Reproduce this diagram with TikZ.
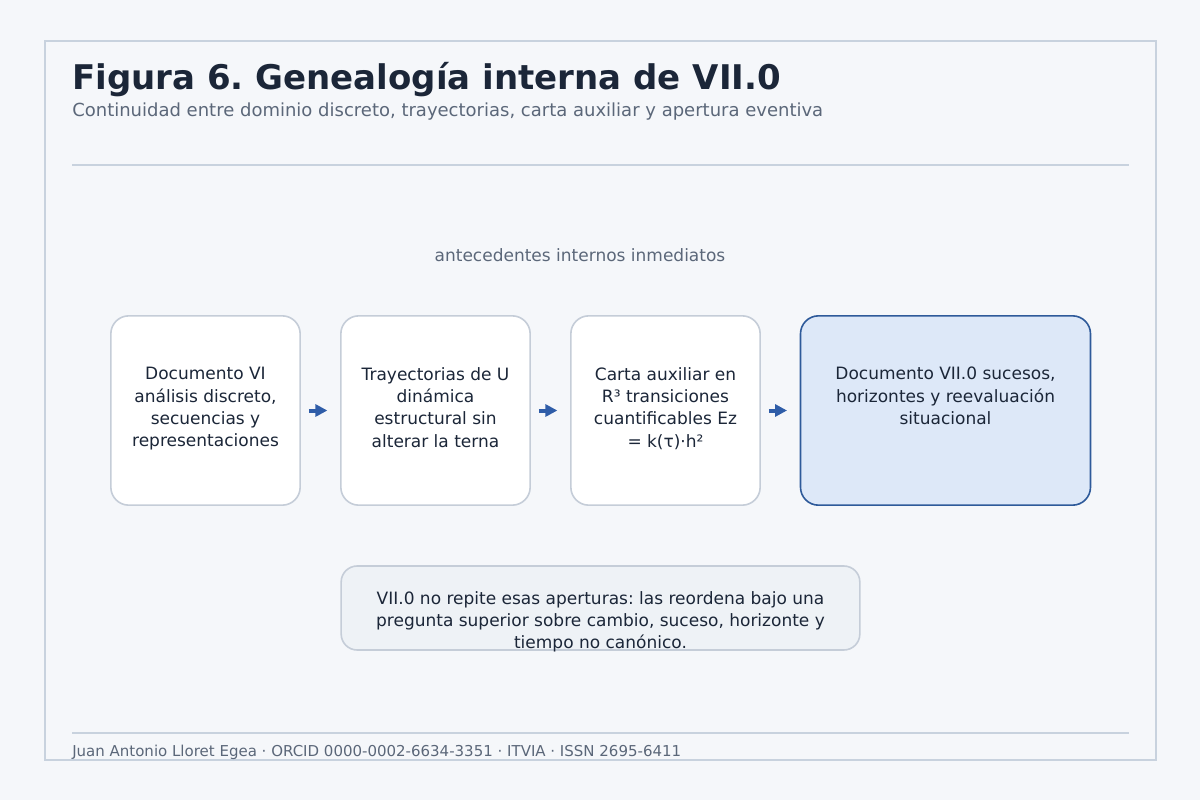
\documentclass[tikz,border=0pt]{standalone}
\usepackage{fontspec}
\setmainfont{DejaVu Sans}
\usepackage{tikz}
\usetikzlibrary{arrows.meta}
\frenchspacing

\definecolor{bgcol}{HTML}{F5F7FA}
\definecolor{framecol}{HTML}{C8D2DE}
\definecolor{titlecol}{HTML}{1B2638}
\definecolor{subcol}{HTML}{5B6779}
\definecolor{boxline}{HTML}{C5CDD8}
\definecolor{bluefill}{HTML}{DDE8F8}
\definecolor{blueline}{HTML}{2E5A9A}
\definecolor{arrowcol}{HTML}{2F5DA8}
\definecolor{notefill}{HTML}{EEF2F6}

\tikzset{
  stagebox/.style={draw=boxline, line width=1.2pt, fill=white, rounded corners=13.5pt,
    minimum width=142pt, minimum height=142pt, inner sep=0pt},
  goalbox/.style={stagebox, draw=blueline, fill=bluefill},
  boxtext/.style={anchor=north, inner sep=0pt, align=center, text=titlecol,
    font=\fontsize{12.75}{16.75}\selectfont},
  flow/.style={draw=arrowcol, line width=3pt, -{Triangle[length=9pt,width=9pt]},
    shorten <=6pt, shorten >=9.5pt}
}

\begin{document}
\begin{tikzpicture}[x=0.75pt, y=-0.75pt]
        \useasboundingbox[fill=bgcol] (0, 0) rectangle (1200, 800);
        \draw[framecol, line width=1.5pt] (45, 41) rectangle (1156, 760);
        \node[anchor=base west, inner sep=0pt, text=titlecol, font=\fontsize{25.5}{30}\selectfont\bfseries] (title) at (72, 89) {Figura 6. Genealogía interna de VII.0};
        \node[anchor=base west, inner sep=0pt, text=subcol, font=\fontsize{13.5}{16}\selectfont] (subtitle) at (72, 116) {Continuidad entre dominio discreto, trayectorias, carta auxiliar y apertura eventiva};
        \draw[framecol, line width=1.5pt] (72, 165) -- (1129, 165);
        \node[text=subcol, inner sep=0pt, font=\fontsize{12.75}{15}\selectfont] (antec) at (580, 255) {antecedentes internos inmediatos};
        % cadena de documentos
        \node[stagebox] (doc6) at (205.5, 410.5) {};
        \node[stagebox] (trayect) at (435.5, 410.5) {};
        \node[stagebox] (carta) at (665.5, 410.5) {};
        \node[goalbox, minimum width=217.5pt] (doc7) at (945.5, 410.5) {};
        \node[boxtext] at (205.5, 367) {Documento VI\\análisis discreto,\\secuencias y\\representaciones};
        \node[boxtext] at (435.5, 367) {Trayectorias de U\\dinámica\\estructural sin\\alterar la terna};
        \node[boxtext] at (665.5, 367) {Carta auxiliar en\\R³ transiciones\\cuantificables Ez\\= k(τ)·h²};
        \node[boxtext] at (945.5, 367) {Documento VII.0 sucesos,\\horizontes y reevaluación\\situacional};
        \draw[flow] (doc6.east) -- (trayect.west);
        \draw[flow] (trayect.east) -- (carta.west);
        \draw[flow] (carta.east) -- (doc7.west);
        % nota inferior
        \node[draw=boxline, line width=1.2pt, fill=notefill, rounded corners=12pt, minimum width=389pt, minimum height=63pt, inner sep=0pt] (note) at (600.5, 608) {};
        \node[boxtext, font=\fontsize{12.75}{16.5}\selectfont] at (600.5, 591) {VII.0 no repite esas aperturas: las reordena bajo una\\pregunta superior sobre cambio, suceso, horizonte y\\tiempo no canónico.};
        \draw[framecol, line width=1.5pt] (72, 733) -- (1129, 733);
        \node[anchor=base west, inner sep=0pt, text=subcol, font=\fontsize{11.25}{13}\selectfont] (footer) at (72, 756) {Juan Antonio Lloret Egea · ORCID 0000-0002-6634-3351 · ITVIA · ISSN 2695-6411};
      \end{tikzpicture}
\end{document}
